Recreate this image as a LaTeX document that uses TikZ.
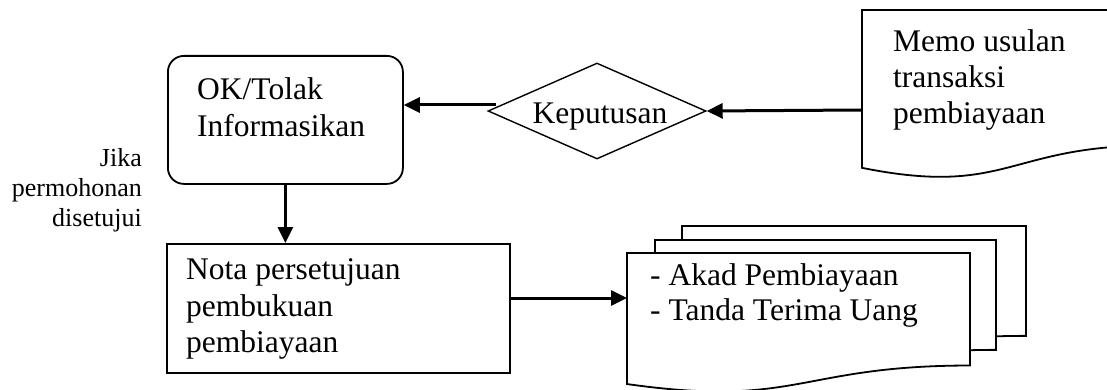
\documentclass[tikz,border=0pt]{standalone}
\usepackage{fontspec}
\setmainfont{Liberation Serif}
\usetikzlibrary{shapes.geometric,arrows.meta,calc}
\newcommand\docpath[5]{%
  \draw[shapeline, fill=white] (#2,#3) coordinate (#1-nw) -- ++(#4,0) -- ++(0,{0.802*#5})
    .. controls ({#2+#4/2},{#3+0.802*#5}) and ({#2+#4/2},{#3+1.107*#5}) .. ({#2},{#3+0.934*#5}) -- cycle;}
\tikzset{
  shapeline/.style={line width=1.8pt, draw=black},
  arr/.style={line width=3pt, -{Triangle[length=16pt,width=15pt]}},
  bigtxt/.style={font=\fontsize{31.5}{36}\selectfont, inner sep=0pt, anchor=base west},
  smalltxt/.style={font=\fontsize{26}{29.5}\selectfont, inner sep=0pt, anchor=base east},
}
\begin{document}
\begin{tikzpicture}[x=1pt,y=-1pt]
\useasboundingbox (0,0) rectangle (1107,390);
\clip (0,0) rectangle (1107,390);
\fill[white] (0,0) rectangle (1107,390);
% memo document
\docpath{memo}{862}{10}{291}{169}
\coordinate (memoL) at (862,110);
\node[bigtxt] (memo1) at (893,52) {Memo usulan};
\node[bigtxt] (memo2) at (893,88) {transaksi};
\node[bigtxt] (memo3) at (893,124) {pembiayaan};
% decision
\node[diamond, shapeline, line width=1.4pt, minimum width=218pt, minimum height=96pt, inner sep=0pt] (dec) at (597,111) {};
\node[bigtxt, anchor=base] (dectxt) at ([xshift=3pt,yshift=-13pt]dec.center) {Keputusan};
% ok box
\node[shapeline, rectangle, rounded corners=16pt, minimum width=235pt, minimum height=128pt, anchor=north west] (ok) at (167,55) {};
\node[bigtxt] (ok1) at (197,100) {OK/Tolak};
\node[bigtxt] (ok2) at (197,137) {Informasikan};
% condition text
\node[smalltxt] (j1) at (142,167) {Jika};
\node[smalltxt] (j2) at (142,196) {permohonan};
\node[smalltxt] (j3) at (142,226) {disetujui};
% nota box
\node[shapeline, rectangle, minimum width=343pt, minimum height=129pt, anchor=north west] (nota) at (166,243) {};
\node[bigtxt] (n1) at (186,279) {Nota persetujuan};
\node[bigtxt] (n2) at (186,316) {pembukuan};
\node[bigtxt] (n3) at (186,352) {pembiayaan};
% multi document
\docpath{back}{682}{226}{344}{137}
\docpath{mid}{655}{240}{341}{137}
\docpath{front}{627}{253}{343}{140.3}
\coordinate (frontL) at (627,298);
\node[bigtxt] (f1) at (650,285) {- Akad Pembiayaan};
\node[bigtxt] (f2) at (650,320) {- Tanda Terima Uang};
% connectors
\draw[arr] (memoL) -- (dec.east);
\coordinate (decL) at ([xshift=9pt,yshift=6pt]dec.west);
\draw[arr] (decL) -- (decL -| ok.east);
\draw[arr] (ok.south) -- (ok.south |- nota.north);
\draw[arr] (nota.east |- frontL) -- (frontL);
\end{tikzpicture}
\end{document}
